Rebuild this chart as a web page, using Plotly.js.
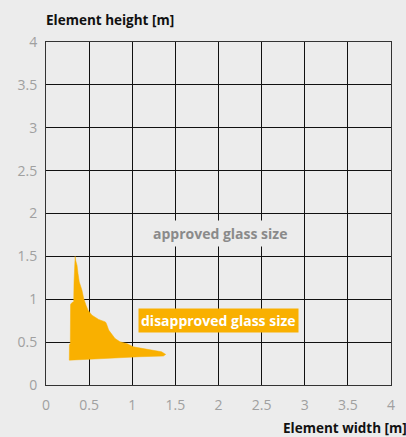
<!DOCTYPE html>
<html>
<head>
<meta charset="utf-8">
<script src="https://cdn.plot.ly/plotly-3.0.1.min.js"></script>
<style>html,body{margin:0;padding:0;background:#ececec;}#chart{width:406px;height:437px;}</style>
</head>
<body>
<div id="chart"></div>
<script>
// Boundary of the "disapproved glass size" region (width [m], height [m])
var regionWidth = [0.27, 0.272, 0.282, 0.285, 0.30, 0.321, 0.325, 0.328, 0.334, 0.338, 0.345, 0.36, 0.371, 0.386, 0.417, 0.437, 0.464, 0.487, 0.533, 0.611, 0.688, 0.70, 0.727, 0.76, 0.80, 0.858, 0.935, 1.012, 1.128, 1.244, 1.34, 1.388, 1.36, 1.09, 0.95, 0.80, 0.50, 0.27];
var regionHeight = [0.29, 0.47, 0.485, 0.94, 0.96, 0.97, 1.20, 1.395, 1.45, 1.50, 1.45, 1.395, 1.30, 1.20, 1.105, 1.008, 0.93, 0.872, 0.814, 0.764, 0.736, 0.717, 0.64, 0.60, 0.543, 0.503, 0.485, 0.445, 0.426, 0.407, 0.387, 0.357, 0.337, 0.33, 0.322, 0.31, 0.30, 0.29];
var tickVals = [0, 0.5, 1, 1.5, 2, 2.5, 3, 3.5, 4];
var tickText = ["0", "0.5", "1", "1.5", "2", "2.5", "3", "3.5", "4"];
var xTitle = "Element width [m]";
var yTitle = "Element height [m]";
var approvedLabel = "approved glass size";
var disapprovedLabel = "disapproved glass size";

var orange = "#f9b000";
var bg = "#ececec";
var font = "Open Sans, sans-serif";

var trace = {
  x: regionWidth, y: regionHeight, type: "scatter", mode: "lines",
  fill: "toself", fillcolor: orange, line: {color: orange, width: 0.5},
  hoverinfo: "skip", showlegend: false
};

var axisCommon = {
  tickmode: "array", tickvals: tickVals, ticktext: tickText,
  showgrid: true, gridcolor: "#111", gridwidth: 1,
  zeroline: false, showline: true, linecolor: "#333", linewidth: 1, mirror: true,
  ticks: "outside", ticklen: 7, tickcolor: "rgba(0,0,0,0)",
  tickfont: {family: font, size: 14, color: "#a0a0a0"},
  range: [0, 4], fixedrange: true
};

var layout = {
  width: 406, height: 437,
  margin: {l: 46, r: 15, t: 42, b: 52},
  paper_bgcolor: bg, plot_bgcolor: bg,
  title: {text: "<b>" + yTitle + "</b>", xref: "paper", x: 0, xanchor: "left",
          yref: "container", y: 0.954, yanchor: "middle",
          font: {family: font, size: 13.5, color: "#111"}},
  xaxis: Object.assign({}, axisCommon),
  yaxis: Object.assign({}, axisCommon, {ticklen: 5}),
  showlegend: false,
  annotations: [
    {xref: "paper", yref: "paper", x: 1.052, y: -0.125, xanchor: "right", yanchor: "middle",
     text: "<b>" + xTitle + "</b>", showarrow: false, font: {family: font, size: 13.5, color: "#111"}},
    {xref: "x", yref: "y", x: 2.02, y: 1.77, xanchor: "center", yanchor: "middle",
     text: "<b>" + approvedLabel + "</b>", showarrow: false, bgcolor: bg, borderpad: 3,
     font: {family: font, size: 14, color: "#8a8a8a"}},
    {xref: "x", yref: "y", x: 2.0, y: 0.755, xanchor: "center", yanchor: "middle",
     text: "<b>" + disapprovedLabel + "</b>", showarrow: false, bgcolor: orange, borderpad: 2,
     font: {family: font, size: 14, color: "#ffffff"}}
  ]
};

Plotly.newPlot("chart", [trace], layout, {displayModeBar: false, staticPlot: true});
</script>
</body>
</html>
